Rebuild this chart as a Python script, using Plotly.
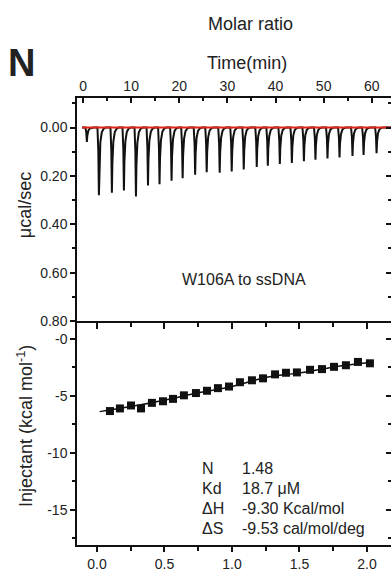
import plotly.graph_objects as go

# ---------------- data ----------------
# thermogram: injection peak times (min) and peak depths (ucal/sec)
peak_time = [0.8, 3.3, 6.0, 8.5, 11.0, 13.5, 15.9, 18.4, 20.7, 23.3, 25.7, 28.4, 30.9,
             33.4, 36.1, 38.4, 40.9, 43.4, 45.9, 48.3, 50.8, 53.3, 56.0, 58.3, 61.0]
peak_depth = [0.06, 0.28, 0.27, 0.26, 0.285, 0.24, 0.235, 0.22, 0.21, 0.195, 0.185, 0.187,
              0.182, 0.174, 0.163, 0.158, 0.151, 0.147, 0.139, 0.133, 0.128, 0.124, 0.118,
              0.114, 0.106]
baseline_time = [-0.2, 64.0]
baseline_value = [0.0, 0.0]

# integrated heats
molar_ratio = [0.096, 0.170, 0.252, 0.326, 0.407, 0.489, 0.563, 0.644, 0.733, 0.815,
               0.896, 0.978, 1.059, 1.148, 1.230, 1.319, 1.400, 1.481, 1.578, 1.667,
               1.756, 1.844, 1.933, 2.022]
heat = [-6.35, -6.12, -5.86, -6.12, -5.63, -5.49, -5.28, -4.97, -4.77, -4.57, -4.34, -4.20,
        -3.82, -3.65, -3.48, -3.13, -2.99, -2.96, -2.73, -2.67, -2.47, -2.33, -2.04, -2.16]
fit_ratio = [0.02, 0.25, 0.5, 0.75, 1.0, 1.25, 1.5, 1.75, 2.02]
fit_heat = [-6.40, -5.95, -5.40, -4.75, -4.20, -3.40, -3.00, -2.50, -2.10]

param_names = ["N", "Kd", "ΔH", "ΔS"]
param_values = ["1.48", "18.7 μM", "-9.30 Kcal/mol", "-9.53 cal/mol/deg"]

time_ticks = [0, 10, 20, 30, 40, 50, 60]
power_ticks = [0.0, 0.2, 0.4, 0.6, 0.8]
heat_ticks = [0, -5, -10, -15]
heat_ticktext = ["-0", "-5", "-10", "-15"]

# ---------------- build thermogram trace from peaks ----------------
shape_dt = [-0.3, -0.12, 0.0, 0.1, 0.3, 0.6, 1.0, 1.4]
shape_fr = [0.0, 0.35, 1.0, 0.55, 0.22, 0.07, 0.015, 0.0]
th_x = [baseline_time[0]]
th_y = [0.0]
for t, d in zip(peak_time, peak_depth):
    for dt, fr in zip(shape_dt, shape_fr):
        th_x.append(t + dt)
        th_y.append(d * fr)
th_x.append(baseline_time[1])
th_y.append(0.0)

FONT = "Arial, Liberation Sans, sans-serif"
TIME_RANGE = [-1.25, 64.0]
MOLAR_RANGE = [-0.148, 2.178]
POWER_RANGE = [0.80, -0.122]
HEAT_RANGE = [-18.1, 1.55]
SPLIT = 0.5011

fig = go.Figure()
fig.add_trace(go.Scatter(x=th_x, y=th_y, mode="lines",
                         line=dict(color="#111111", width=2), xaxis="x", yaxis="y"))
fig.add_trace(go.Scatter(x=baseline_time, y=baseline_value, mode="lines",
                         line=dict(color="#e3241b", width=2), xaxis="x", yaxis="y"))
fig.add_trace(go.Scatter(x=fit_ratio, y=fit_heat, mode="lines", line_shape="spline",
                         line=dict(color="#111111", width=1.5), xaxis="x2", yaxis="y2"))
fig.add_trace(go.Scatter(x=molar_ratio, y=heat, mode="markers",
                         marker=dict(symbol="square", size=8, color="#111111"),
                         xaxis="x2", yaxis="y2"))
# empty traces to activate overlay axes
fig.add_trace(go.Scatter(x=[None], y=[None], xaxis="x3", yaxis="y"))
fig.add_trace(go.Scatter(x=[None], y=[None], xaxis="x", yaxis="y3"))
fig.add_trace(go.Scatter(x=[None], y=[None], xaxis="x2", yaxis="y4"))

common = dict(showgrid=False, zeroline=False, linecolor="#111111", linewidth=1.5,
              tickcolor="#111111", tickwidth=1.5,
              tickfont=dict(family=FONT, size=14, color="#222222"))

fig.update_layout(
    width=391, height=572,
    margin=dict(l=77, r=0, t=98, b=19),
    paper_bgcolor="white", plot_bgcolor="white",
    showlegend=False,
    xaxis=dict(domain=[0, 1], anchor="y", side="top", range=TIME_RANGE,
               showline=True, ticks="inside", ticklen=5, tickvals=time_ticks,
               minor=dict(dtick=5, tick0=0, ticks="inside", ticklen=3,
                          tickcolor="#111111", tickwidth=1.5), **common),
    yaxis=dict(domain=[SPLIT, 1], anchor="x", range=POWER_RANGE, showline=True,
               ticks="outside", ticklen=5, tickvals=power_ticks, tickformat=".2f",
               minor=dict(dtick=0.1, tick0=0, ticks="outside", ticklen=3,
                          tickcolor="#111111", tickwidth=1.5), **common),
    xaxis3=dict(overlaying="x", anchor="y", side="bottom", range=MOLAR_RANGE,
                showline=True, ticks="outside", ticklen=6, dtick=0.5, tick0=0,
                showticklabels=False,
                minor=dict(dtick=0.25, tick0=0, ticks="outside", ticklen=4,
                           tickcolor="#111111", tickwidth=1.5), **common),
    yaxis3=dict(overlaying="y", anchor="x", side="right", range=POWER_RANGE,
                showline=False, ticks="inside", ticklen=5, tickvals=power_ticks,
                showticklabels=False,
                minor=dict(dtick=0.1, tick0=0, ticks="inside", ticklen=3,
                           tickcolor="#111111", tickwidth=1.5), **common),
    xaxis2=dict(domain=[0, 1], anchor="y2", range=MOLAR_RANGE, showline=True,
                ticks="outside", ticklen=5, dtick=0.5, tick0=0, tickformat=".1f",
                minor=dict(dtick=0.25, tick0=0, ticks="outside", ticklen=4,
                           tickcolor="#111111", tickwidth=1.5), **common),
    yaxis2=dict(domain=[0, SPLIT], anchor="x2", range=HEAT_RANGE, showline=True,
                ticks="outside", ticklen=5, tickvals=heat_ticks, ticktext=heat_ticktext,
                minor=dict(dtick=2.5, tick0=0, ticks="outside", ticklen=3,
                           tickcolor="#111111", tickwidth=1.5), **common),
    yaxis4=dict(overlaying="y2", anchor="x2", side="right", range=HEAT_RANGE,
                showline=False, ticks="inside", ticklen=5, tickvals=heat_ticks,
                showticklabels=False,
                minor=dict(dtick=2.5, tick0=0, ticks="inside", ticklen=3,
                           tickcolor="#111111", tickwidth=1.5), **common),
)

def ann(text, x, y, size, **kw):
    fig.add_annotation(text=text, x=x, y=y, xref="paper", yref="paper",
                       showarrow=False, font=dict(family=FONT, size=size, color="#222222"),
                       **kw)

ann("<b>N</b>", -0.177, 1.079, 38, xanchor="center", yanchor="middle")
ann("Molar ratio", 0.551, 1.165, 18, xanchor="center", yanchor="middle")
ann("Time(min)", 0.541, 1.079, 18, xanchor="center", yanchor="middle")
ann("μcal/sec", -0.166, 0.760, 18, xanchor="center", yanchor="middle", textangle=-90)
ann("Injectant (kcal mol<sup>-1</sup>)", -0.166, 0.266, 18, xanchor="center",
    yanchor="middle", textangle=-90)
ann("W106A to ssDNA", 0.532, 0.593, 16, xanchor="center", yanchor="middle")

row_y = [0.1714, 0.1275, 0.0813, 0.0374]
for name, val, yy in zip(param_names, param_values, row_y):
    ann(name, 0.392, yy, 16, xanchor="left", yanchor="middle")
    ann(val, 0.519, yy, 16, xanchor="left", yanchor="middle")

fig.write_html("out.html")
